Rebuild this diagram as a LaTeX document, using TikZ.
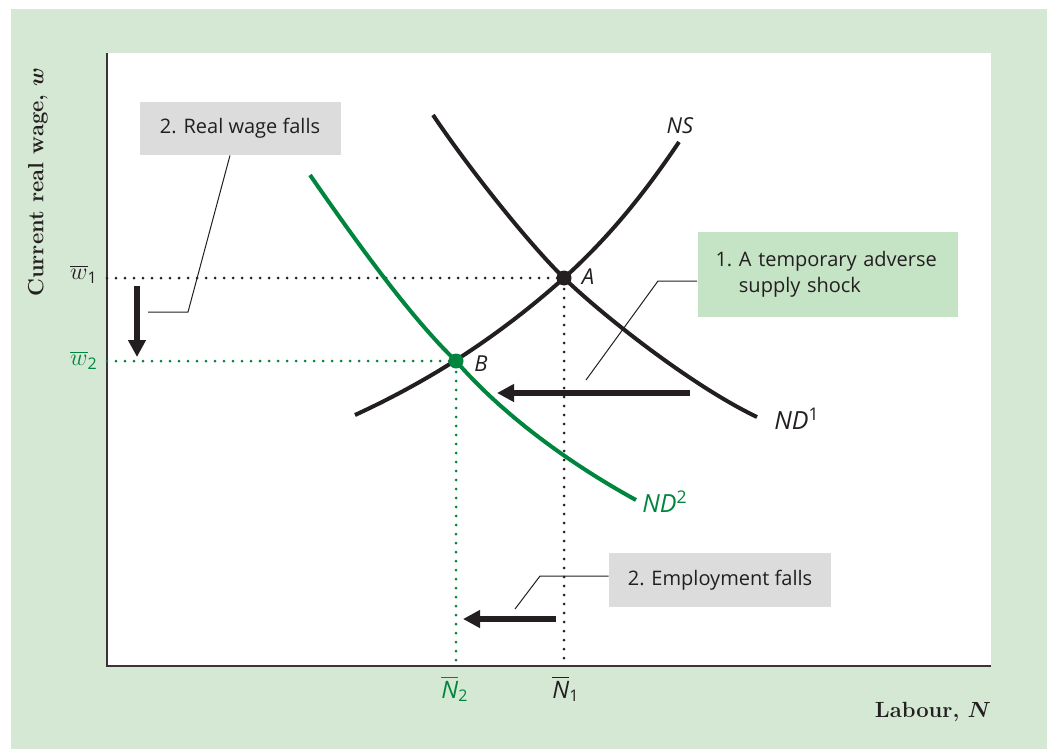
\documentclass[tikz,border=0pt]{standalone}
\usepackage{amsmath}
\usepackage{fontspec}
\setsansfont{Open Sans}
\usetikzlibrary{arrows.meta}
\definecolor{bggreen}{RGB}{213,232,212}
\definecolor{boxgreen}{RGB}{197,227,197}
\definecolor{boxgray}{RGB}{220,220,220}
\definecolor{curvegreen}{RGB}{0,133,62}
\definecolor{inkdark}{RGB}{35,31,32}

\begin{document}
\begin{tikzpicture}[x=0.5pt,y=-0.5pt,
    schedule/.style={line width=2pt, line cap=butt},
    guide/.style={line width=1.5pt, line cap=round, dash pattern=on 0pt off 4.5pt},
    leader/.style={line width=0.5pt, inkdark},
    movearrow/.style={line width=3pt, inkdark, -{Triangle[length=8.5pt,width=8.5pt]}},
    note/.style={font=\sffamily\fontsize{10}{13}\selectfont, text=inkdark, inner sep=0pt},
    tag/.style={font=\sffamily\itshape\fontsize{11}{12}\selectfont, text=inkdark, inner sep=0pt},
    bigtag/.style={tag, font=\sffamily\itshape\fontsize{12.5}{14}\selectfont},
    ticklab/.style={font=\fontsize{12}{14}\selectfont},
    ptdot/.style={circle, fill, inner sep=0pt, minimum size=7.5pt}]
  % Background and plot area
  \useasboundingbox (0,0) rectangle (1047,749);
  \fill[bggreen] (11,9) rectangle (1047,749);
  \fill[white] (107,53) rectangle (991,666);
  % Axes
  \coordinate (O) at (107,666);
  \coordinate (ytop) at (107,53);
  \coordinate (xend) at (991,666);
  \draw[line width=1.3pt, inkdark!90] (ytop) -- (O) -- (xend);
  \node[rotate=90, font=\bfseries\fontsize{11}{12}\selectfont, text=inkdark] (ylab) at (38,182) {Current real wage, $\boldsymbol{w}$};
  \node[font=\bfseries\fontsize{11}{12}\selectfont, text=inkdark] (xlab) at (933,712) {Labour, $\boldsymbol{N}$};
  % Equilibrium points
  \coordinate (A) at (564,278);
  \coordinate (B) at (456,361);
  % Guide lines
  \draw[guide, inkdark] (O |- A) -- (A) -- (A |- O);
  \draw[guide, curvegreen] (O |- B) -- (B) -- (B |- O);
  % Tick labels
  \node[ticklab, text=inkdark] (w1) at (84,274) {$\overline{w}_{\textsf{1}}$};
  \node[ticklab, text=curvegreen] (w2) at (84,360) {$\overline{w}_{\textsf{2}}$};
  \node[ticklab, text=curvegreen] (N2) at (455,689) {$\overline{\textsf{\textit{N}}}_{\textsf{2}}$};
  \node[ticklab, text=inkdark] (N1) at (566,689) {$\overline{\textsf{\textit{N}}}_{\textsf{1}}$};
  % Labour supply and demand
  \draw[schedule, inkdark] (355,415) .. controls (420,385) and (490,344) .. (A)
    .. controls (614,233) and (650,185) .. (679,142);
  \draw[schedule, inkdark] (433,115) .. controls (470,170) and (530,245) .. (A)
    .. controls (600,313) and (690,385) .. (757,417);
  \draw[schedule, curvegreen] (310,175) .. controls (355,240) and (411,318) .. (B)
    .. controls (508,421) and (581,470) .. (636,500);
  \node[ptdot, inkdark] (Adot) at (A) {};
  \node[ptdot, curvegreen] (Bdot) at (B) {};
  \node[tag] (Alab) at (588,277) {A};
  \node[tag] (Blab) at (481,364) {B};
  \node[tag] (NSlab) at (680,126) {NS};
  \node[bigtag] (ND1lab) at (797,419) {ND\textsuperscript{\upshape 1}};
  \node[bigtag, text=curvegreen] (ND2lab) at (665,502) {ND\textsuperscript{\upshape 2}};
  % Shift arrows
  \coordinate (wfrom) at (137,286);
  \coordinate (wto) at (137,357);
  \coordinate (dfrom) at (690,393);
  \coordinate (dto) at (497,393);
  \coordinate (nfrom) at (556,619);
  \coordinate (nto) at (463,619);
  \draw[movearrow] (wfrom) -- (wto);
  \draw[movearrow] (dfrom) -- (dto);
  \draw[movearrow] (nfrom) -- (nto);
  % Notes
  \node[note, fill=boxgray, minimum width=100.5pt, minimum height=26.5pt] (wagebox) at (240,128.5) {2. Real wage falls};
  \node[note, fill=boxgreen, text width=112pt, inner xsep=9pt, minimum height=42.5pt, align=left] (shockbox) at (827.5,274.5)
    {\hyphenpenalty=10000 1.\ A temporary adverse\\\hphantom{1.\ }supply shock};
  \node[note, fill=boxgray, minimum width=111pt, minimum height=27pt] (empbox) at (720,580) {2. Employment falls};
  % Leader lines
  \coordinate (wagebend) at (188,312);
  \coordinate (wageend) at (148,312);
  \coordinate (shockbend) at (658,281);
  \coordinate (shockend) at (586,380);
  \coordinate (empbend) at (540,576);
  \coordinate (empend) at (515,609);
  \draw[leader] (wagebox.south -| 230,0) -- (wagebend) -- (wageend);
  \draw[leader] (shockbox.west |- shockbend) -- (shockbend) -- (shockend);
  \draw[leader] (empbox.west |- empbend) -- (empbend) -- (empend);
\end{tikzpicture}
\end{document}
